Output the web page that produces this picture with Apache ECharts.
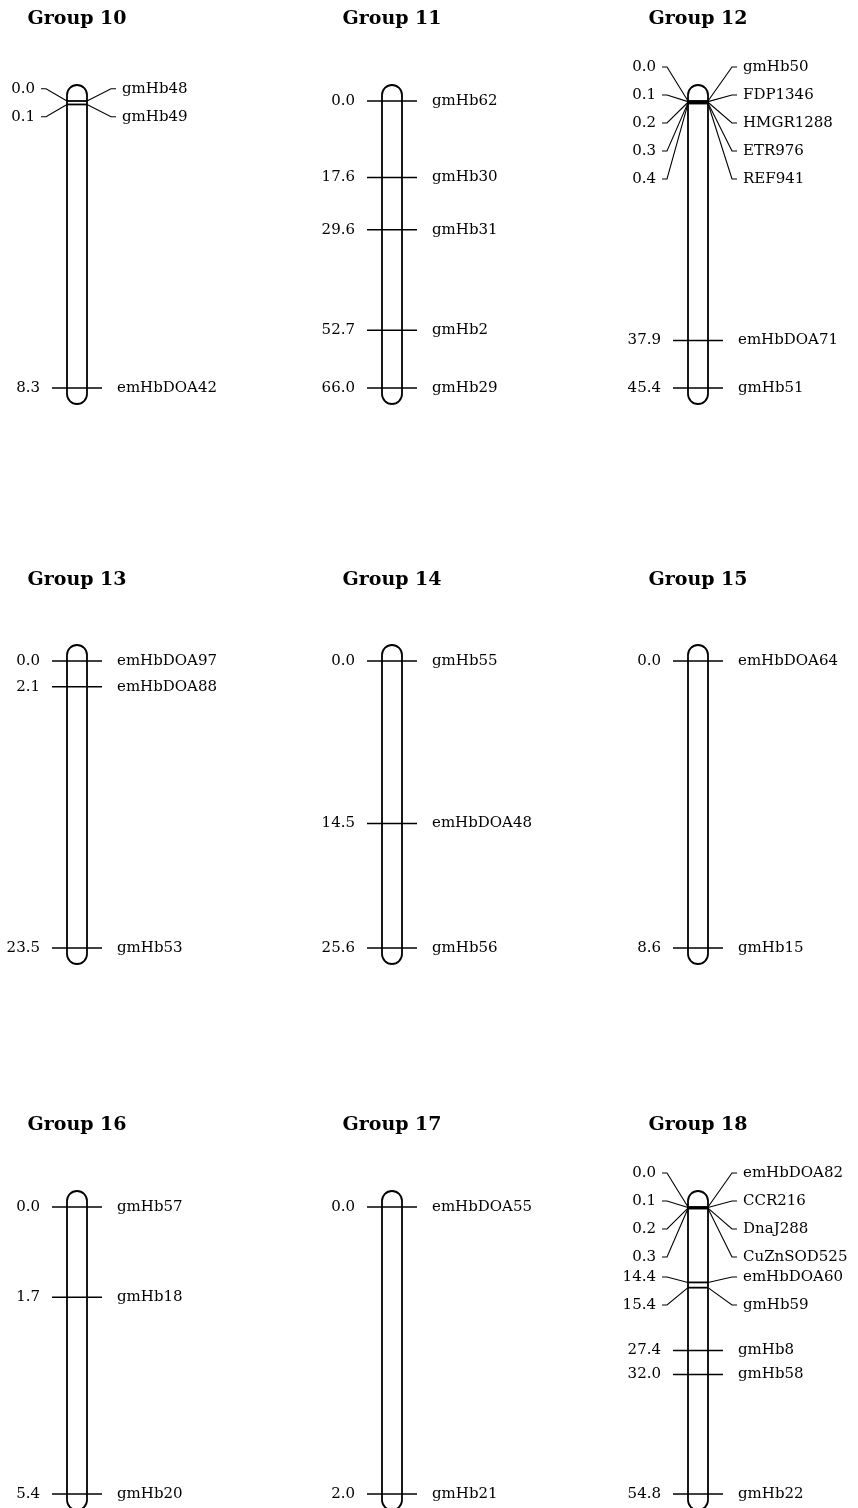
<!DOCTYPE html>
<html>
<head>
<meta charset="utf-8">
<script src="https://cdn.jsdelivr.net/npm/echarts@6/dist/echarts.min.js"></script>
<style>html,body{margin:0;padding:0;background:#fff;}#c{width:858px;height:1508px;}</style>
</head>
<body>
<div id="c"></div>
<script>
// ---- data ----
const groupTitles = ['Group 10','Group 11','Group 12','Group 13','Group 14','Group 15','Group 16','Group 17','Group 18'];

const g10Names = ['gmHb48','gmHb49','emHbDOA42'];
const g10Pos   = [0.0, 0.1, 8.3];
const g11Names = ['gmHb62','gmHb30','gmHb31','gmHb2','gmHb29'];
const g11Pos   = [0.0, 17.6, 29.6, 52.7, 66.0];
const g12Names = ['gmHb50','FDP1346','HMGR1288','ETR976','REF941','emHbDOA71','gmHb51'];
const g12Pos   = [0.0, 0.1, 0.2, 0.3, 0.4, 37.9, 45.4];
const g13Names = ['emHbDOA97','emHbDOA88','gmHb53'];
const g13Pos   = [0.0, 2.1, 23.5];
const g14Names = ['gmHb55','emHbDOA48','gmHb56'];
const g14Pos   = [0.0, 14.5, 25.6];
const g15Names = ['emHbDOA64','gmHb15'];
const g15Pos   = [0.0, 8.6];
const g16Names = ['gmHb57','gmHb18','gmHb20'];
const g16Pos   = [0.0, 1.7, 5.4];
const g17Names = ['emHbDOA55','gmHb21'];
const g17Pos   = [0.0, 2.0];
const g18Names = ['emHbDOA82','CCR216','DnaJ288','CuZnSOD525','emHbDOA60','gmHb59','gmHb8','gmHb58','gmHb22'];
const g18Pos   = [0.0, 0.1, 0.2, 0.3, 14.4, 15.4, 27.4, 32.0, 54.8];

const groupNames = [g10Names,g11Names,g12Names,g13Names,g14Names,g15Names,g16Names,g17Names,g18Names];
const groupPos   = [g10Pos,g11Pos,g12Pos,g13Pos,g14Pos,g15Pos,g16Pos,g17Pos,g18Pos];

// ---- layout (styling only) ----
const colCenters = [77, 392, 698];
const rowTops = [101, 661, 1207];
const rowHeight = 287;
const titleYs = [19, 580, 1125];
const FONT = 'DejaVu Serif';
const LABEL_SIZE = 15;
const ROD_HALF = 10;

function spread(ys) {
  const n = ys.length, ly = ys.slice(), moved = ys.map(() => false), cid = ys.map(() => -1);
  let i = 0, first = true, cc = 0;
  while (i < n) {
    let j = i;
    while (j + 1 < n && ys[j + 1] - ys[j] < 16) j++;
    if (j > i) {
      const m = j - i + 1;
      let c = 0; for (let k = i; k <= j; k++) c += ys[k]; c /= m;
      for (let k = i; k <= j; k++) { ly[k] = c + (k - i - (m - 1) / 2) * 28; moved[k] = true; cid[k] = cc; }
      cc++;
      if (first) {
        const shift = Math.max(0, (ys[0] - 34) - ly[i]);
        for (let k = i; k <= j; k++) ly[k] += shift;
      }
    }
    first = false;
    i = j + 1;
  }
  for (let k = 1; k < n; k++) {
    let gap = (moved[k] || moved[k - 1]) ? 20 : 16;
    if (cid[k] >= 0 && cid[k] === cid[k - 1]) gap = 28;
    if (ly[k] < ly[k - 1] + gap) { ly[k] = ly[k - 1] + gap; moved[k] = true; }
  }
  return { ly, moved };
}

function txt(x, y, text, align) {
  return { type: 'text', x: x, y: y, style: { text: text, fill: '#000', fontFamily: FONT, fontSize: LABEL_SIZE, align: align, verticalAlign: 'middle' } };
}
function ln(x1, y1, x2, y2, w) {
  return { type: 'line', shape: { x1, y1, x2, y2 }, style: { stroke: '#000', lineWidth: w || 1.5 } };
}

const grids = [], xAxes = [], yAxes = [], series = [], graphics = [];
groupPos.forEach((pos, gi) => {
  const col = gi % 3, row = Math.floor(gi / 3);
  const cx = colCenters[col];
  const maxV = Math.max.apply(null, pos);
  grids.push({ left: cx - 50, width: 100, top: rowTops[row], height: rowHeight });
  xAxes.push({ type: 'value', gridIndex: gi, min: -1, max: 1, show: false });
  yAxes.push({ type: 'value', gridIndex: gi, min: 0, max: maxV, inverse: true, show: false });
  graphics.push({ type: 'text', x: cx, y: titleYs[row], style: { text: groupTitles[gi], fill: '#000', fontFamily: FONT, fontWeight: 'bold', fontSize: 19, align: 'center', verticalAlign: 'middle' } });

  // chromosome rod
  series.push({
    type: 'custom', xAxisIndex: gi, yAxisIndex: gi, silent: true,
    data: [[0, 0, maxV]],
    encode: { x: 0, y: [1, 2] },
    renderItem: function (params, api) {
      const a = api.coord([0, api.value(1)]);
      const b = api.coord([0, api.value(2)]);
      return { type: 'rect', shape: { x: a[0] - ROD_HALF, y: a[1] - 16, width: ROD_HALF * 2, height: b[1] - a[1] + 32, r: ROD_HALF },
               style: { fill: 'none', stroke: '#000', lineWidth: 1.8 } };
    }
  });

  // markers
  const names = groupNames[gi];
  series.push({
    type: 'custom', xAxisIndex: gi, yAxisIndex: gi, silent: true,
    data: pos.map(p => [0, p]),
    encode: { x: 0, y: 1 },
    renderItem: function (params, api) {
      const ys = pos.map(p => api.coord([0, p])[1]);
      const L = spread(ys);
      const i = params.dataIndex;
      const pt = api.coord([0, api.value(1)]);
      const x = pt[0], my = pt[1];
      const ly = L.ly[i];
      const valText = api.value(1).toFixed(1);
      const ch = [];
      if (!L.moved[i]) {
        ch.push(ln(x - 25, my, x + 25, my));
        ch.push(txt(x - 37, my, valText, 'right'));
        ch.push(txt(x + 40, my, names[i], 'left'));
      } else {
        ch.push(ln(x - ROD_HALF, my, x + ROD_HALF, my, 1.8));
        ch.push({ type: 'polyline', shape: { points: [[x - ROD_HALF, my], [x - ROD_HALF - 21, ly], [x - ROD_HALF - 26, ly]] }, style: { stroke: '#000', lineWidth: 1.1, fill: null } });
        ch.push({ type: 'polyline', shape: { points: [[x + ROD_HALF, my], [x + ROD_HALF + 24, ly], [x + ROD_HALF + 29, ly]] }, style: { stroke: '#000', lineWidth: 1.1, fill: null } });
        ch.push(txt(x - ROD_HALF - 32, ly, valText, 'right'));
        ch.push(txt(x + ROD_HALF + 35, ly, names[i], 'left'));
      }
      return { type: 'group', children: ch };
    }
  });
});

const chart = echarts.init(document.getElementById('c'), null, { renderer: 'canvas' });
chart.setOption({
  backgroundColor: '#fff',
  animation: false,
  grid: grids,
  xAxis: xAxes,
  yAxis: yAxes,
  graphic: graphics,
  series: series
});
</script>
</body>
</html>
